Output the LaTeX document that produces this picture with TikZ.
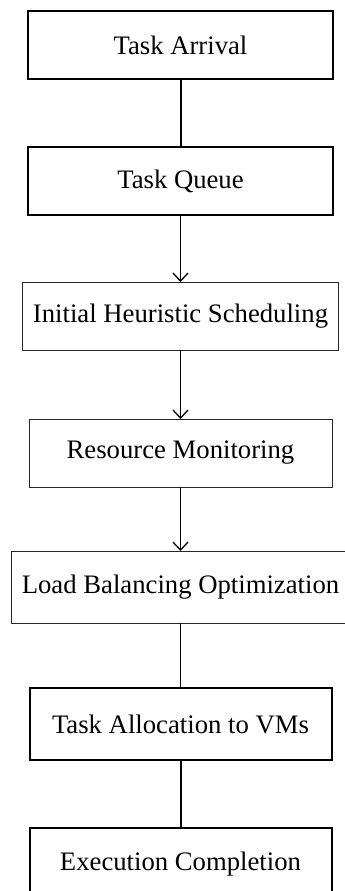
\documentclass[tikz,border=0pt]{standalone}
\usepackage{fontspec}
\setmainfont{Liberation Serif}
\usetikzlibrary{arrows.meta, positioning}

\begin{document}
\begin{tikzpicture}[
    node distance=33.5pt,
    font=\fontsize{13.35}{16}\selectfont,
    % Boxes
    boldbox/.style={rectangle, draw=black, line width=1pt, minimum width=152.5pt, minimum height=34pt, inner xsep=5.4pt, outer sep=0pt, text centered},
    plainbox/.style={rectangle, draw=black!85, line width=0.5pt, minimum width=151.5pt, minimum height=34pt, inner xsep=5.4pt, outer sep=0pt, text centered},
    % Connectors
    boldline/.style={line width=1pt, draw=black},
    thinline/.style={line width=0.6pt, draw=black},
    flow/.style={line width=0.65pt, draw=black, -{Straight Barb[length=4pt, width=7.5pt]}},
]

\useasboundingbox (0,0) rectangle (172pt,-445.5pt);

% 1. Task intake
\node[boldbox] (arrival) at (90.25pt,-22.5pt) {Task Arrival};
\node[boldbox, below=34pt of arrival] (queue) {Task Queue};

% 2. Scheduling and monitoring
\node[plainbox, below=33.5pt of queue] (heuristic) {Initial Heuristic Scheduling};
\node[plainbox, below=34.5pt of heuristic] (monitor) {Resource Monitoring};
\node[plainbox, minimum height=36pt, below=32pt of monitor] (balance) {Load Balancing Optimization};

% 3. Allocation and completion
\node[boldbox, minimum width=151pt, minimum height=36pt, below=32.5pt of balance] (alloc) {Task Allocation to VMs};
\node[boldbox, minimum width=151pt, minimum height=36pt, below=34pt of alloc] (done) {Execution Completion};

% Connections
\draw[boldline] (arrival) -- (queue);
\draw[flow] (queue) -- (heuristic);
\draw[flow] (heuristic) -- (monitor);
\draw[flow] (monitor) -- (balance);
\draw[thinline] (balance) -- (alloc);
\draw[boldline] (alloc) -- (done);

\end{tikzpicture}
\end{document}
